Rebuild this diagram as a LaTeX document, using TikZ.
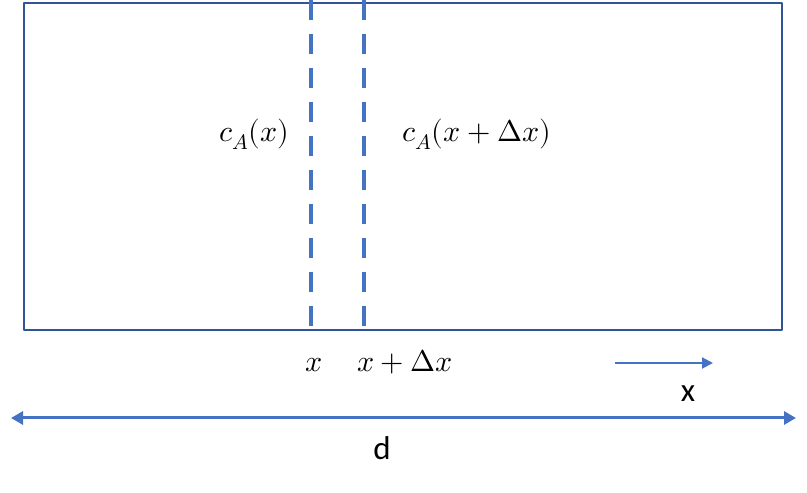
\documentclass[tikz,border=0pt]{standalone}
\usepackage{fontspec}
\usepackage{unicode-math}
\newfontfamily\labelfont{Carlito}
\usepackage{tikz}
\usetikzlibrary{arrows.meta}
\usetikzlibrary{positioning}
\definecolor{lineblue}{HTML}{4472C4}
\definecolor{boxblue}{HTML}{2F5597}
\tikzset{
  mathlabel/.style={anchor=base,inner sep=0pt,font=\fontsize{30}{35}\selectfont},
  textlabel/.style={anchor=base,inner sep=0pt,font=\labelfont\fontsize{33}{38}\selectfont},
  cutline/.style={draw=lineblue,line width=4pt,dash pattern=on 20pt off 14pt},
}
\begin{document}
\begin{tikzpicture}[line cap=butt,line join=round,x=1pt,y=1pt]
\useasboundingbox (0,0) rectangle (807,493);
% slab
\draw [boxblue,line width=1.6pt] (24,490) rectangle (782,163);
% the two cuts
\coordinate (cutAtop) at (311,493);
\coordinate (cutAbot) at (311,163);
\coordinate (cutBtop) at (364,493);
\coordinate (cutBbot) at (364,163);
\draw [cutline] (cutAtop) -- (cutAbot);
\draw [cutline] (cutBtop) -- (cutBbot);
% concentrations
\node [mathlabel] (concA) at (254,351) {$c_A(x)$};
\node [mathlabel] (concB) at (477,351) {$c_A(x+\Delta x)$};
\node [mathlabel] (posA) at (314,121) {$x$};
\node [mathlabel] (posB) at (405,121) {$x+\Delta x$};
% direction of x
\coordinate (dirstart) at (615,130);
\coordinate (dirend) at (713,130);
\draw [lineblue,line width=2pt,-{Triangle[length=11pt,width=11pt]}] (dirstart) -- (dirend);
\node [textlabel] (xname) at (688,91) {x};
% thickness
\coordinate (dleft) at (11,75);
\coordinate (dright) at (796,75);
\draw [lineblue,line width=3pt,{Triangle[length=12pt,width=13pt]}-{Triangle[length=12pt,width=13pt]}] (dleft) -- (dright);
\node [textlabel] (dname) at (382,33) {d};
\end{tikzpicture}
\end{document}
